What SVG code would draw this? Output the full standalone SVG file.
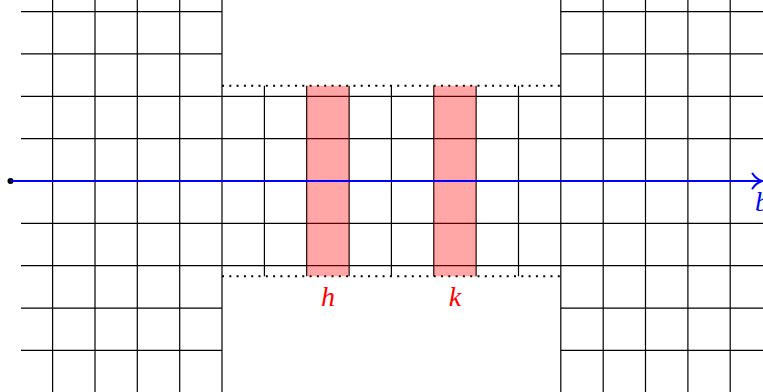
<svg xmlns="http://www.w3.org/2000/svg" width="763" height="392" viewBox="0 0 763 392">
<style>
.g{stroke:#000;stroke-width:1.2;fill:none}
.dot{stroke:#000;stroke-width:2;stroke-dasharray:2 5.3;fill:none}
.hl{fill:#ff0000;fill-opacity:0.35}
.lbl{font-family:"Liberation Serif",serif;font-style:italic;font-size:28px}
</style>
<rect width="763" height="392" fill="#fff"/>
<g id="grid">
<path class="g" d="M52.6,0V392M95,0V392M137.3,0V392M179.7,0V392M222,0V392M560.8,0V392M603.2,0V392M645.5,0V392M687.9,0V392M730.2,0V392"/>
<path class="g" d="M264.4,85.7V276.3M306.7,85.7V276.3M349.1,85.7V276.3M391.4,85.7V276.3M433.8,85.7V276.3M476.1,85.7V276.3M518.5,85.7V276.3"/>
<path class="g" d="M21,11.6H222M21,53.9H222M21,308.1H222M21,350.4H222M560.8,11.6H763M560.8,53.9H763M560.8,308.1H763M560.8,350.4H763"/>
<path class="g" d="M21,96.3H763M21,138.6H763M21,223.4H763M21,265.7H763"/>
<path class="dot" d="M222,85.7H560.8M222,276.3H560.8"/>
</g>
<g id="h">
<rect class="hl" x="306.7" y="85.7" width="42.4" height="190.6"/>
<text class="lbl" x="328" y="306" fill="#ff0000" text-anchor="middle">h</text>
</g>
<g id="k">
<rect class="hl" x="433.8" y="85.7" width="42.3" height="190.6"/>
<text class="lbl" x="455" y="306" fill="#ff0000" text-anchor="middle">k</text>
</g>
<g id="connectors">
<circle cx="10.5" cy="181" r="3" fill="#000"/>
<path d="M10.5,181H761" stroke="#0000ff" stroke-width="2" fill="none"/>
<path d="M752.5,173.5Q756,179 762,181Q756,183 752.5,188.5" stroke="#0000ff" stroke-width="2" fill="none" stroke-linecap="round"/>
</g>
<g id="b">
<text class="lbl" x="755" y="211" fill="#0000ff">b</text>
</g>
</svg>
